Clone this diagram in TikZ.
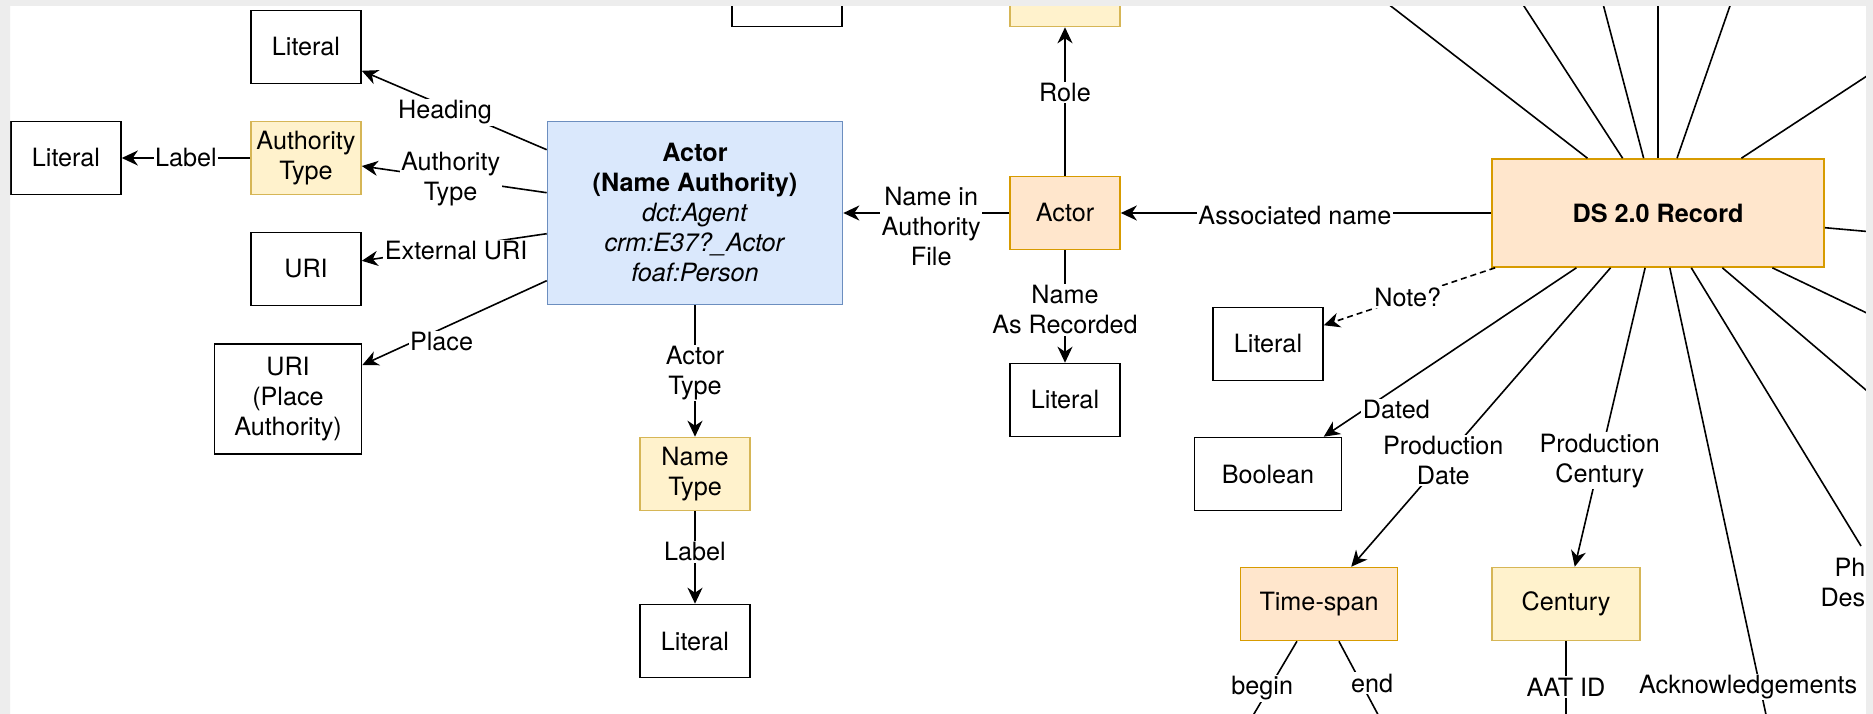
\documentclass[tikz,border=0pt]{standalone}
\usepackage{fontspec}
\setmainfont{TeX Gyre Heros}
\usetikzlibrary{calc}
\usetikzlibrary{arrows.meta}
\definecolor{bluefill}{HTML}{DAE8FC}
\definecolor{blueline}{HTML}{6C8EBF}
\definecolor{ylwfill}{HTML}{FFF2CC}
\definecolor{ylwline}{HTML}{D6B656}
\definecolor{orgfill}{HTML}{FFE6CC}
\definecolor{orgline}{HTML}{D79B00}
\definecolor{framegray}{HTML}{EDEDED}
\tikzset{
  box/.style={draw=black,line width=1.6pt,fill=white,align=center,inner sep=2pt,minimum width=110pt,minimum height=73pt},
  ybox/.style={box,draw=ylwline,fill=ylwfill},
  obox/.style={box,draw=orgline,fill=orgfill},
  bbox/.style={box,draw=blueline,fill=bluefill},
  link/.style={line width=1.6pt,-{Stealth[length=16pt,width=15pt,inset=5pt]}},
  bare/.style={line width=1.6pt},
  lbl/.style={fill=white,inner sep=1.5pt,align=center},
}

\begin{document}
\begin{tikzpicture}[x=1pt,y=-1pt,font=\fontsize{25.2}{30}\selectfont]
\useasboundingbox (0,0) rectangle (1873,714);
\clip (0,0) rectangle (1873,714);
\fill[white] (0,0) rectangle (1873,714);

\node[box] (litHead) at (306,47) {Literal};
\node[box] (litAuth) at (66,158) {Literal};
\node[ybox] (authType) at (306,158) {Authority\\Type};
\node[box] (uriExt) at (306,269) {URI};
\node[box,minimum width=147pt,minimum height=110pt] (uriPlace) at (288,399) {URI\\(Place\\Authority)};
\node[bbox,minimum width=295pt,minimum height=183pt] (actorNA) at (695,213) {\textbf{Actor}\\\textbf{(Name Authority)}\\\textit{dct:Agent}\\\textit{crm:E37?\_Actor}\\\textit{foaf:Person}};
\node[ybox] (nameType) at (695,474) {Name\\Type};
\node[box] (litType) at (695,641) {Literal};
\node[box] (topBox) at (787,-10) {};
\node[ybox] (roleBox) at (1065,-10) {};
\node[obox] (actor) at (1065,213) {Actor};
\node[box] (litRec) at (1065,400) {Literal};
\node[obox,minimum width=332pt,minimum height=108pt] (ds) at (1658,213) {\textbf{DS 2.0 Record}};
\node[box] (litNote) at (1268,344) {Literal};
\node[box,minimum width=147pt] (bool) at (1268,474) {Boolean};
\node[obox,minimum width=157pt] (span) at (1319,604) {Time-span};
\node[ybox,minimum width=148pt] (century) at (1566,604) {Century};

\coordinate (naA) at ($(actorNA.north west)+(0,29)$);
\coordinate (naB) at ($(actorNA.north west)+(0,72)$);
\coordinate (naC) at ($(actorNA.north west)+(0,113)$);
\coordinate (naD) at ($(actorNA.north west)+(0,160)$);
\draw[link] (naA) -- node[lbl,pos=0.55,yshift=-6pt]{Heading} (litHead);
\draw[link] (naB) -- node[lbl,pos=0.52]{Authority\\Type} (authType);
\draw[link] (naC) -- node[lbl,pos=0.49,yshift=-4pt]{External URI} (uriExt);
\draw[link] (naD) -- node[lbl,pos=0.57,yshift=-13pt]{Place} (uriPlace);
\draw[link] (authType) -- node[lbl,pos=0.5]{Label} (litAuth);
\draw[link] (actorNA) -- node[lbl,pos=0.515]{Actor\\Type} (nameType);
\draw[link] (nameType) -- node[lbl,pos=0.44]{Label} (litType);
\draw[link] (actor) -- node[lbl,pos=0.47,yshift=-14pt]{Name in\\Authority\\File} (actorNA);
\draw[link] (actor) -- node[lbl,pos=0.56]{Role} (roleBox);
\draw[link] (actor) -- node[lbl,pos=0.53]{Name\\As Recorded} (litRec);
\draw[link] (ds) -- node[lbl,pos=0.53,yshift=-3pt]{Associated name} (actor);
\draw[link,dash pattern=on 6pt off 4pt] (ds) -- node[lbl,pos=0.51]{Note?} (litNote);
\draw[link] (ds) -- node[lbl,pos=0.78,xshift=17pt,yshift=-10pt]{Dated} (bool);
\draw[link] (ds) -- node[lbl,pos=0.645]{Production\\Date} (span);
\draw[link] (ds) -- node[lbl,pos=0.645]{Production\\Century} (century);

\coordinate (t1) at (1383,0);
\coordinate (t2) at (1520,0);
\coordinate (t3) at (1602,0);
\coordinate (t4) at (1658,0);
\coordinate (t5) at (1732,0);
\coordinate (t6) at (1873,72);
\coordinate (r1) at (1873,232);
\coordinate (b8) at (1873,316);
\coordinate (b7) at (1873,396);
\coordinate (phEnd) at (1861,546);
\coordinate (ackEnd) at (1768,724);
\coordinate (beginEnd) at (1248,724);
\coordinate (endEnd) at (1383,724);
\coordinate (aatEnd) at (1566,724);
\foreach \e in {t1,t2,t3,t4,t5,t6,r1,b8,b7,phEnd}
  \draw[bare] (ds) -- (\e);
\draw[bare] (ds) -- node[lbl,pos=0.919,xshift=-12pt]{Acknowledgements} (ackEnd);
\node[lbl,anchor=east,align=right] (phDes) at (1867,582) {Ph\\Des};
\draw[bare] (span) -- node[lbl,pos=0.566,xshift=-7pt]{begin} (beginEnd);
\draw[bare] (span) -- node[lbl,pos=0.506,xshift=11pt]{end} (endEnd);
\draw[bare] (century) -- node[lbl,pos=0.554]{AAT ID} (aatEnd);

\fill[framegray,even odd rule] (0,0) rectangle (1873,714) (10,6) rectangle (1866,714);
\end{tikzpicture}
\end{document}
